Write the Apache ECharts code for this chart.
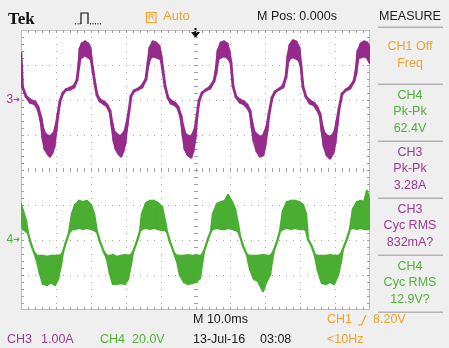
<!DOCTYPE html>
<html><head><meta charset="utf-8">
<script src="https://cdn.jsdelivr.net/npm/echarts/dist/echarts.min.js"></script>
<style>html,body{margin:0;padding:0;background:#efefef;}#c{width:449px;height:348px;}</style>
</head><body><div id="c"></div>
<script>
// ---- data (time in ms, CH3 in A, CH4 in V) ----
const ch3T  = [0,0.43,1.43,2.58,4.01,4.87,5.73,6.30,6.88,7.74,8.31,8.88,9.46,10.03,10.60,11.17,12.03,12.89,14.04,15.19,16.05,16.62,16.91,17.48,18.34,19.20,19.77,20.06,20.63,21.20,21.78,22.64,23.78,24.64,25.50,26.07,26.65,27.22,28.08,28.65,29.23,29.80,30.37,30.95,31.52,32.38,33.52,34.67,35.82,36.39,36.96,37.82,38.68,39.54,40.11,40.69,41.26,42.12,42.98,44.13,44.99,45.84,46.42,46.99,47.85,48.71,49.28,49.86,50.43,51.00,51.86,53.01,54.15,55.30,55.87,56.45,57.31,58.17,59.03,59.60,60.17,60.74,61.60,62.75,63.90,64.76,65.62,66.19,66.76,67.62,68.48,69.34,69.91,70.49,71.06,71.92,72.78,73.92,75.07,75.93,76.50,77.08,77.94,78.80,79.66,80.23,80.80,81.66,82.81,83.95,84.81,85.67,86.25,86.82,87.68,88.54,89.40,89.97,90.54,91.12,91.98,93.12,94.27,95.41,95.99,96.56,97.42,98.28,99.14,100];
const ch3Hi = [1.34,0.37,0.11,0,-0.06,-0.2,-0.51,-0.83,-0.97,-1.03,-1.06,-1.0,-0.94,-0.74,-0.4,-0.03,0.2,0.29,0.34,0.4,0.57,1.06,1.46,1.6,1.66,1.6,1.49,1.23,0.83,0.46,0.14,0,-0.06,-0.14,-0.31,-0.66,-0.91,-0.97,-1.03,-1.03,-0.97,-0.89,-0.66,-0.31,0.11,0.26,0.31,0.4,0.6,1.06,1.49,1.66,1.63,1.54,1.26,0.83,0.4,0.06,-0.03,-0.09,-0.2,-0.46,-0.77,-0.97,-1.03,-1.06,-0.97,-0.83,-0.46,-0.03,0.2,0.29,0.37,0.54,0.83,1.4,1.63,1.66,1.6,1.4,1.06,0.4,0.09,0,-0.06,-0.14,-0.31,-0.66,-0.91,-1.0,-1.06,-1.03,-0.91,-0.74,-0.4,0.06,0.23,0.31,0.4,0.66,1.26,1.57,1.69,1.66,1.49,0.97,0.37,0.09,-0.03,-0.09,-0.2,-0.4,-0.74,-0.94,-1.03,-1.06,-1.0,-0.89,-0.6,-0.26,0.17,0.29,0.37,0.54,0.83,1.4,1.6,1.66,1.63,1.46];
const ch3Lo = [1.34,0.37,0.11,-0.06,-0.11,-0.26,-0.6,-1.11,-1.4,-1.54,-1.6,-1.51,-1.34,-0.89,-0.4,-0.03,0.2,0.29,0.31,0.37,0.57,1.0,1.2,1.23,1.29,1.23,1.2,1.17,0.83,0.46,0.14,-0.03,-0.11,-0.17,-0.34,-0.74,-1.17,-1.4,-1.54,-1.6,-1.46,-1.23,-0.74,-0.31,0.11,0.26,0.31,0.37,0.6,1.0,1.2,1.26,1.23,1.2,1.17,0.83,0.4,0.06,-0.09,-0.14,-0.23,-0.51,-1.0,-1.4,-1.57,-1.63,-1.46,-1.11,-0.46,-0.03,0.2,0.29,0.34,0.54,0.77,1.17,1.23,1.26,1.23,1.17,1.06,0.4,0.09,-0.06,-0.11,-0.2,-0.34,-0.77,-1.17,-1.46,-1.6,-1.57,-1.29,-0.89,-0.4,0.06,0.23,0.31,0.37,0.66,1.11,1.2,1.23,1.2,1.14,0.97,0.37,0.09,-0.09,-0.14,-0.26,-0.43,-0.89,-1.31,-1.57,-1.66,-1.51,-1.23,-0.74,-0.26,0.17,0.29,0.34,0.54,0.77,1.2,1.23,1.26,1.23,1.06];

const ch4T  = [0,0.57,1.43,2.01,2.87,3.72,4.58,5.44,6.30,7.45,8.60,9.74,10.60,11.46,12.03,12.89,13.75,14.61,15.47,16.62,17.76,18.91,20.06,20.92,21.78,22.64,23.78,24.64,25.50,26.36,27.51,28.65,29.80,30.66,31.52,32.09,33.24,34.10,34.67,35.82,36.96,38.11,39.25,40.40,41.26,41.83,42.69,43.84,44.70,45.56,46.70,47.85,49.00,50.14,51.29,51.86,52.44,53.58,54.44,55.01,56.16,57.31,58.45,59.31,60.46,61.32,62.18,62.75,63.61,64.76,65.62,66.76,67.91,69.34,70.49,71.35,71.92,72.49,73.35,74.21,75.07,76.22,77.36,78.51,79.66,80.80,81.66,82.23,83.38,84.24,85.10,86.25,87.39,88.54,89.68,90.83,91.69,92.26,93.41,94.27,95.13,96.28,97.42,98.28,99.14,100];
const ch4Hi = [20.6,16.6,10.9,4.0,-2.3,-6.9,-9.1,-9.1,-9.1,-9.7,-9.1,-9.1,-9.1,-8.6,-6.9,-1.1,4.0,14.9,20.0,22.3,21.7,22.3,20.0,14.9,4.6,-1.1,-6.9,-9.1,-9.1,-8.6,-9.7,-9.1,-8.6,-9.1,-8.6,-6.9,-0.6,5.1,14.9,21.1,22.3,22.3,21.1,18.9,10.9,4.6,-1.1,-7.4,-9.1,-9.1,-9.1,-8.6,-9.1,-9.1,-9.1,-8.6,-6.3,0.6,5.1,14.9,20.6,21.7,22.3,25.7,21.7,17.7,9.1,2.3,-3.4,-8.6,-9.1,-9.1,-9.1,-8.6,-9.1,-9.1,-8.0,-5.7,-1.1,5.1,16.6,21.7,22.3,22.3,21.7,20.0,14.9,0.6,-4.0,-8.6,-9.1,-9.1,-9.1,-8.6,-9.1,-9.1,-8.0,-5.1,0.6,6.3,17.7,21.7,22.3,21.7,28.0,20.6];
const ch4Lo = [9.1,6.3,5.1,4.0,-2.3,-6.9,-12.0,-19.4,-25.1,-25.7,-24.0,-25.7,-22.3,-14.3,-6.9,-1.1,4.0,6.3,6.3,6.9,6.3,6.9,6.3,5.7,4.6,-1.1,-6.9,-10.9,-19.4,-25.1,-25.1,-24.6,-25.1,-22.3,-13.7,-6.9,-0.6,5.1,6.3,6.9,6.3,6.9,6.3,5.7,5.7,4.6,-1.1,-7.4,-12.0,-20.0,-24.0,-25.1,-24.6,-24.0,-21.7,-13.7,-6.3,0.6,5.1,6.3,6.9,6.3,6.3,6.9,6.3,5.7,5.1,2.3,-3.4,-8.6,-16.6,-22.3,-23.4,-29.1,-22.9,-20.0,-12.0,-5.7,-1.1,5.1,6.3,6.9,6.3,6.9,6.3,6.3,5.7,0.6,-4.0,-9.1,-17.7,-24.6,-25.1,-24.0,-25.1,-20.0,-12.0,-5.1,0.6,6.3,6.9,6.3,6.9,6.3,6.3,6.3];

// ---- texts ----
const measureTexts = [['CH1 Off','Freq'],['CH4','Pk-Pk','62.4V'],['CH3','Pk-Pk','3.28A'],['CH3','Cyc RMS','832mA?'],['CH4','Cyc RMS','12.9V?']];
const headerTexts = {brand:'Tek', mode:'R', trig:'Auto', mpos:'M Pos: 0.000s', menu:'MEASURE'};
const footerTexts = {timebase:'M 10.0ms', trigSrc:'CH1', trigLevel:'8.20V', ch3Scale:['CH3','1.00A'], ch4Scale:['CH4','20.0V'], date:'13-Jul-16', time:'03:08', freq:'<10Hz'};

const MAG='#962b8c', MAGT='#9b3a92', GRN='#4aae32', GRNT='#52b03a', ORG='#f2a12c', BLK='#1a1a1a';
const FONT='"Liberation Sans", Arial, sans-serif';
const FS=12.5;

function bandRender(T,H,L,color,width){
  return function(params, api){
    const i = params.dataIndex;
    if (i >= T.length-1) return null;
    const pts=[api.coord([T[i],H[i]]),api.coord([T[i+1],H[i+1]]),api.coord([T[i+1],L[i+1]]),api.coord([T[i],L[i]])];
    return {type:'polygon', shape:{points:pts}, style:{fill:color, stroke:color, lineWidth:width, lineJoin:'round'}};
  };
}

function gratRender(params, api){
  const ch=[];
  const G='#a9a9a9', B='#bdbdbd', TK='#a2a2a2';
  const r=(x,y,w,h,c)=>ch.push({type:'rect',shape:{x:Math.round(x),y:Math.round(y),width:w,height:h},style:{fill:c}});
  const p=(x,y)=>api.coord([x,y]);
  const tl=p(0,4), br=p(100,-4);
  const X0=Math.round(tl[0]), Y0=Math.round(tl[1]), X1=Math.round(br[0]), Y1=Math.round(br[1]);
  for(let d=-3; d<=3; d++){ if(d===0) continue; for(let i=1;i<50;i++){const q=p(i*2,d); r(q[0],q[1],1,1,G);} }
  for(let k=1;k<10;k++){ if(k===5) continue; for(let m=1;m<40;m++){const q=p(k*10,-4+m*0.2); r(q[0],q[1],1,1,G);} }
  for(let i=1;i<50;i++){const q=p(i*2,0); r(q[0],q[1]-2,1,4,TK);}
  for(let m=1;m<40;m++){const q=p(50,-4+m*0.2); r(q[0]-2,q[1],4,1,TK);}
  r(X0,Y0,X1-X0,1,B); r(X0,Y1-1,X1-X0,1,B); r(X0,Y0,1,Y1-Y0,B); r(X1-1,Y0,1,Y1-Y0,B);
  for(let i=1;i<50;i++){const q=p(i*2,0); r(q[0],Y0,1,3,TK); r(q[0],Y1-3,1,3,TK);}
  for(let m=1;m<40;m++){const q=p(0,-4+m*0.2); r(X0,q[1],3,1,TK); r(X1-3,q[1],3,1,TK);}
  return {type:'group', children:ch};
}

const chart = echarts.init(document.getElementById('c'), null, {renderer:'canvas'});
const hidden = {axisLine:{show:false}, axisTick:{show:false}, splitLine:{show:false}};
chart.setOption({
  animation:false,
  backgroundColor:'#efefef',
  grid:{left:21, top:30, width:349, height:280, show:true, backgroundColor:'#ffffff', borderWidth:0},
  xAxis:[Object.assign({type:'value', min:0, max:100, interval:10, axisLabel:{show:false}}, hidden)],
  yAxis:[
    Object.assign({type:'value', min:-6, max:2, interval:1, position:'left',
      axisLabel:{show:true, margin:1, formatter:v=>v===0?'{n|3}{a|➔}':'', rich:{n:{color:MAGT,fontFamily:FONT,fontSize:12},a:{color:MAGT,fontFamily:'"DejaVu Sans", sans-serif',fontSize:8}}}}, hidden),
    Object.assign({type:'value', min:-40, max:120, interval:20, position:'left',
      axisLabel:{show:true, margin:1, formatter:v=>v===0?'{n|4}{a|➔}':'', rich:{n:{color:GRNT,fontFamily:FONT,fontSize:12},a:{color:GRNT,fontFamily:'"DejaVu Sans", sans-serif',fontSize:8}}}}, hidden),
    Object.assign({type:'value', min:-4, max:4, interval:1, show:false}, hidden)
  ],
  series:[
    {type:'custom', name:'graticule', xAxisIndex:0, yAxisIndex:2, data:[[50,0]], renderItem:gratRender, z:1, silent:true, clip:false},
    {type:'custom', name:'CH3', xAxisIndex:0, yAxisIndex:0, data:ch3T.map((t,i)=>[t,ch3Hi[i],ch3Lo[i]]), encode:{x:0,y:[1,2]}, renderItem:bandRender(ch3T,ch3Hi,ch3Lo,MAG,2.8), z:3, clip:true, silent:true},
    {type:'custom', name:'CH4', xAxisIndex:0, yAxisIndex:1, data:ch4T.map((t,i)=>[t,ch4Hi[i],ch4Lo[i]]), encode:{x:0,y:[1,2]}, renderItem:bandRender(ch4T,ch4Hi,ch4Lo,GRN,2.3), z:3, clip:true, silent:true}
  ]
});

const trigX = chart.convertToPixel({xAxisIndex:0}, 50);
const txt=(x,y,s,c,opt)=>Object.assign({type:'text', x:x, y:y, style:Object.assign({text:s, fill:c, font:FS+'px '+FONT, textAlign:'left', textVerticalAlign:'middle', verticalAlign:'middle'}, opt||{})});
const g=[];
g.push(txt(8,19.5,headerTexts.brand,'#111',{font:'bold 17px "Liberation Serif", "Times New Roman", serif'}));
g.push({type:'polyline', shape:{points:[[81,24],[81,13],[88,13],[88,24]]}, style:{stroke:'#111', lineWidth:1.2, fill:null}});
[75,77.5,79.5,90,92.5,95,97.5,100].forEach(x=>g.push({type:'rect', shape:{x:x,y:23,width:1,height:1.5}, style:{fill:'#333'}}));
g.push({type:'rect', shape:{x:146.5,y:12.5,width:9.5,height:10}, style:{stroke:ORG, lineWidth:1.2, fill:null}});
g.push(txt(151.3,17.8,headerTexts.mode,ORG,{font:'9.5px '+FONT, textAlign:'center'}));
g.push(txt(163,16.5,headerTexts.trig,ORG,{font:'13px '+FONT}));
g.push(txt(257,16.5,headerTexts.mpos,BLK));
g.push(txt(410,16.5,headerTexts.menu,BLK,{textAlign:'center'}));
g.push({type:'polygon', shape:{points:[[trigX-1,28],[trigX+1,28],[trigX+1,32],[trigX+4.5,32],[trigX,38],[trigX-4.5,32],[trigX-1,32]]}, style:{fill:'#111'}});
const seps=[27,84,141,198,255,312];
seps.forEach(y=>g.push({type:'rect', shape:{x:378,y:y-0.5,width:65,height:1.5}, style:{fill:'#b4b4b4'}}));
const pColors=[ORG,GRNT,MAGT,MAGT,GRNT];
measureTexts.forEach((lines,k)=>{
  const base = seps[k] + (k===0 ? 20 : 11.5);
  lines.forEach((s,j)=>g.push(txt(410, base + j*16.5, s, pColors[k], {textAlign:'center'})));
});
g.push(txt(193,320,footerTexts.timebase,BLK));
g.push(txt(327,320,footerTexts.trigSrc,ORG));
g.push({type:'polyline', shape:{points:[[358,325],[361.5,325],[366,315]]}, style:{stroke:ORG, lineWidth:1.2, fill:null}});
g.push(txt(373,320,footerTexts.trigLevel,ORG));
g.push(txt(7,340,footerTexts.ch3Scale[0],MAGT));
g.push(txt(41,340,footerTexts.ch3Scale[1],MAGT));
g.push(txt(100,340,footerTexts.ch4Scale[0],GRNT));
g.push(txt(132,340,footerTexts.ch4Scale[1],GRNT));
g.push(txt(193,340,footerTexts.date,BLK));
g.push(txt(260,340,footerTexts.time,BLK));
g.push(txt(327,340,footerTexts.freq,ORG));
chart.setOption({graphic:g});
</script></body></html>
